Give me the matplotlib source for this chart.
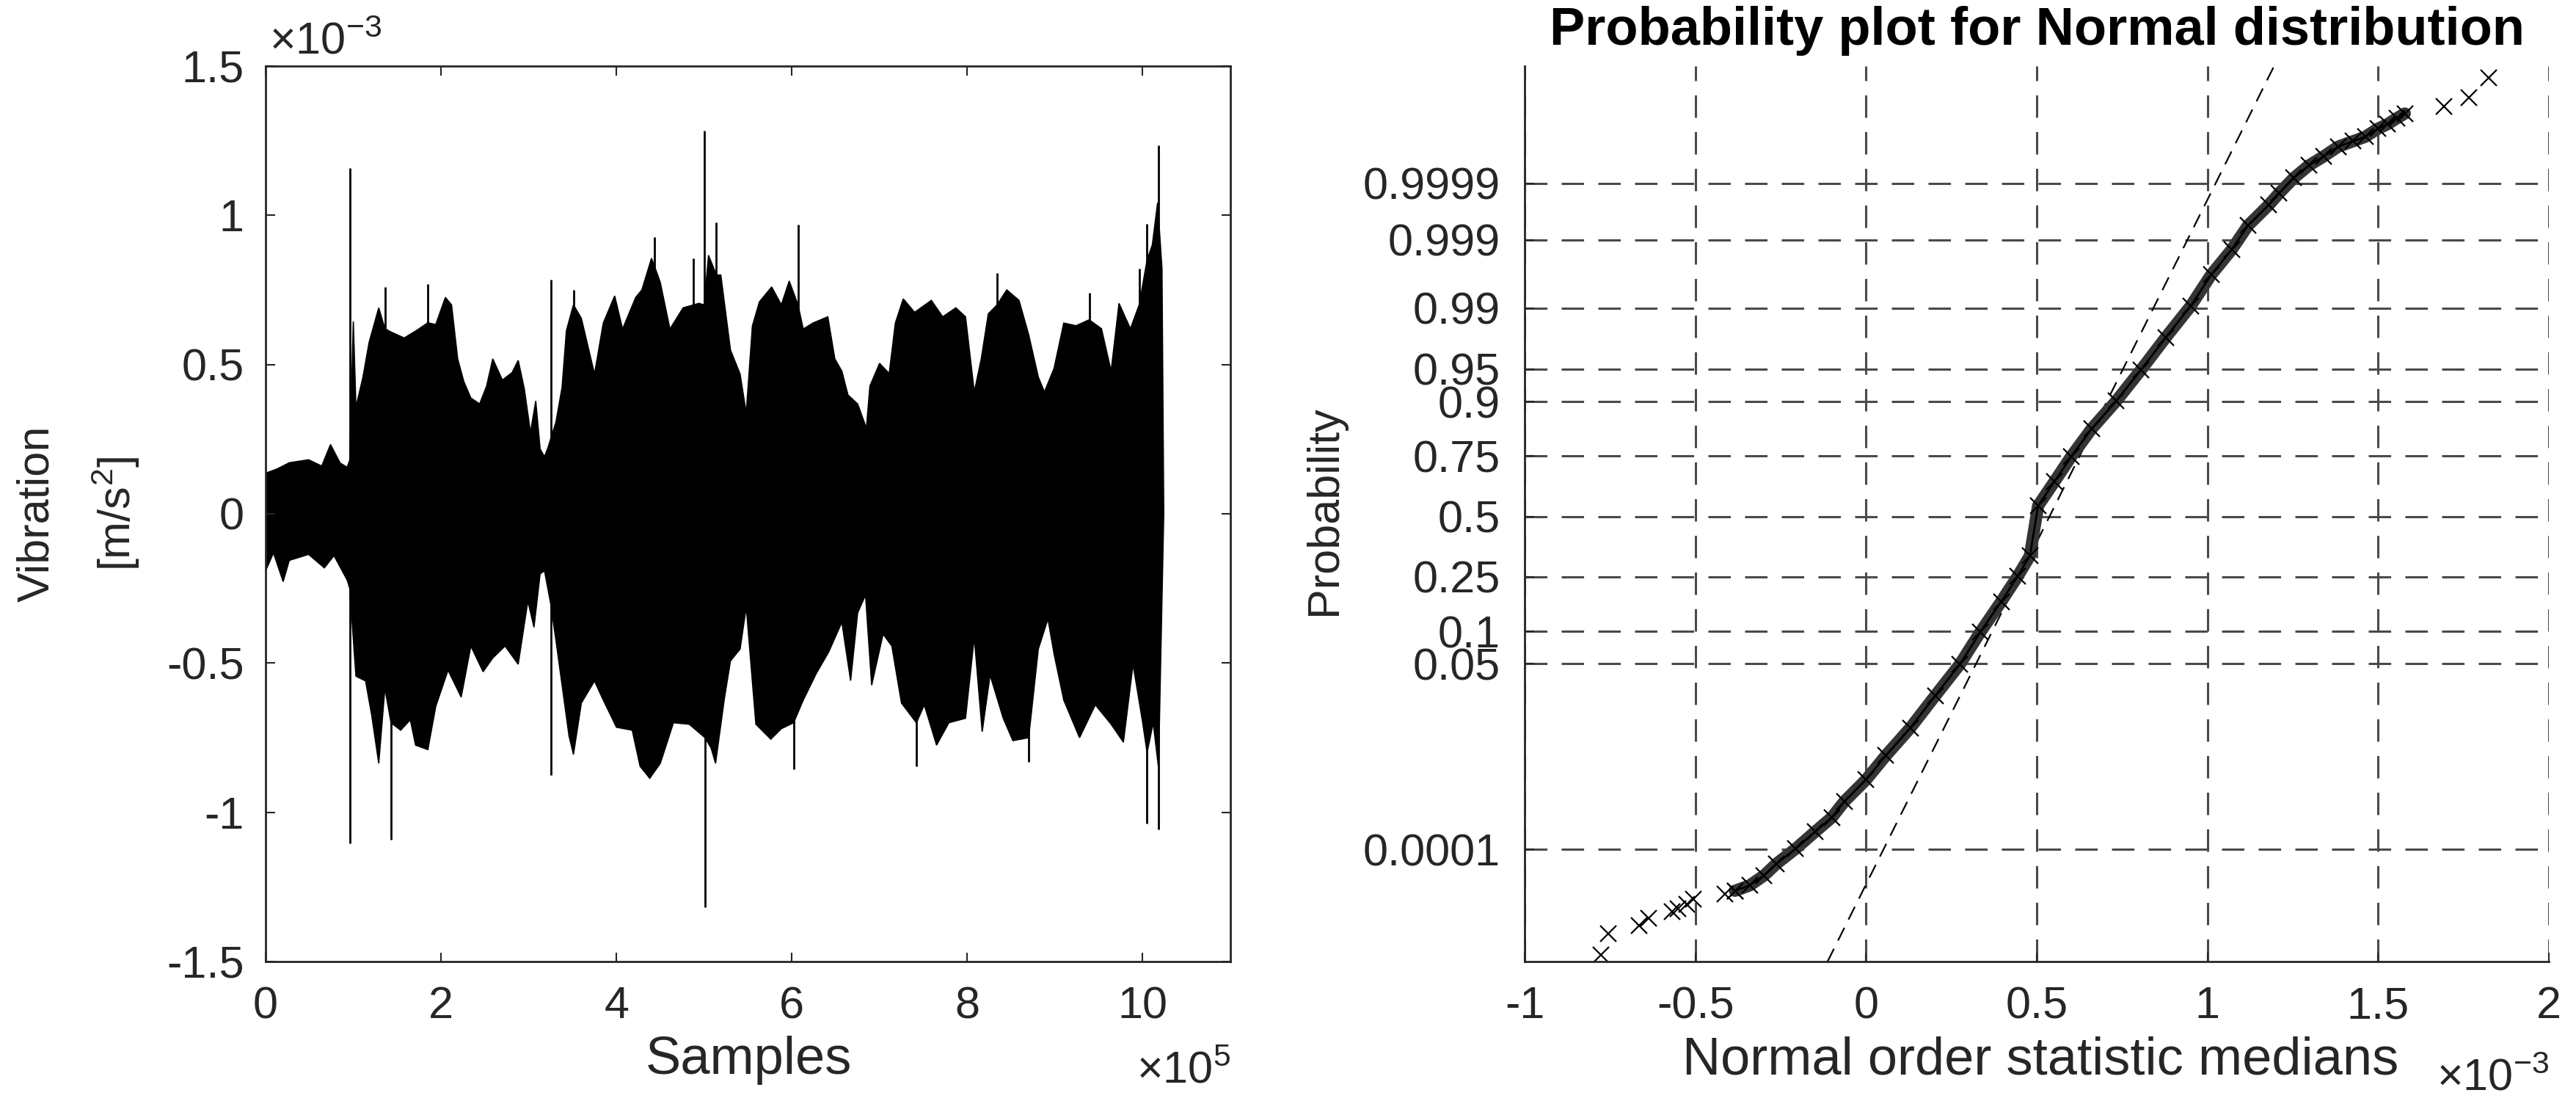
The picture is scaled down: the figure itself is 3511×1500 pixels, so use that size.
import matplotlib
matplotlib.use('Agg')
import numpy as np
import matplotlib.pyplot as plt
from statistics import NormalDist

plt.rcParams['font.family'] = ['Liberation Sans', 'DejaVu Sans']
plt.rcParams['mathtext.fontset'] = 'custom'
plt.rcParams['mathtext.rm'] = 'Liberation Sans'
plt.rcParams['axes.unicode_minus'] = False
plt.rcParams['lines.scale_dashes'] = False

INK = '#262626'

# left panel: vibration record, read off as upper / lower envelope
# x in 1e5 samples, y in 1e-3 m/s^2
env_up_x = [0.0, 0.13, 0.27, 0.49, 0.64, 0.74, 0.85, 0.93, 0.96, 1.00, 1.03, 1.11, 1.18, 1.29,
            1.36, 1.43, 1.58, 1.72, 1.85, 1.94, 2.05, 2.12, 2.19, 2.26, 2.34, 2.44, 2.52, 2.59,
            2.70, 2.81, 2.88, 2.95, 3.02, 3.08, 3.13, 3.18, 3.22, 3.31, 3.38, 3.43, 3.51, 3.60,
            3.75, 3.85, 3.98, 4.07, 4.22, 4.29, 4.40, 4.47, 4.50, 4.61, 4.76, 4.88, 4.94, 5.00,
            5.05, 5.14, 5.19, 5.30, 5.41, 5.48, 5.55, 5.63, 5.77, 5.88, 5.97, 6.07, 6.13, 6.24,
            6.41, 6.49, 6.57, 6.64, 6.75, 6.85, 6.89, 7.00, 7.11, 7.18, 7.27, 7.40, 7.59, 7.72,
            7.87, 7.98, 8.08, 8.16, 8.24, 8.34, 8.45, 8.59, 8.70, 8.81, 8.88, 8.99, 9.10, 9.24,
            9.39, 9.53, 9.64, 9.73, 9.86, 9.96, 10.05, 10.11, 10.17, 10.22, 10.24]
env_up_y = [0.136, 0.15, 0.171, 0.181, 0.16, 0.232, 0.17, 0.156, 0.18, 0.645, 0.357, 0.458, 0.574, 0.69,
            0.62, 0.609, 0.589, 0.614, 0.64, 0.634, 0.725, 0.70, 0.519, 0.443, 0.388, 0.368, 0.428, 0.519,
            0.448, 0.473, 0.514, 0.418, 0.272, 0.378, 0.217, 0.191, 0.222, 0.307, 0.423, 0.614, 0.70, 0.655,
            0.468, 0.639, 0.73, 0.619, 0.725, 0.75, 0.856, 0.80, 0.775, 0.619, 0.69, 0.70, 0.705, 0.70,
            0.866, 0.80, 0.80, 0.549, 0.468, 0.337, 0.629, 0.71, 0.76, 0.70, 0.78, 0.70, 0.619, 0.639,
            0.66, 0.519, 0.478, 0.398, 0.368, 0.287, 0.428, 0.504, 0.47, 0.639, 0.72, 0.675, 0.715, 0.66,
            0.69, 0.66, 0.408, 0.52, 0.67, 0.70, 0.75, 0.715, 0.60, 0.458, 0.408, 0.488, 0.639, 0.63,
            0.65, 0.62, 0.478, 0.705, 0.62, 0.70, 0.85, 0.901, 1.042, 0.821, 0.0]
env_lo_x = [0.0, 0.09, 0.20, 0.27, 0.49, 0.67, 0.78, 0.93, 0.96, 1.03, 1.14, 1.21, 1.29, 1.36,
            1.43, 1.54, 1.65, 1.71, 1.85, 1.94, 2.08, 2.23, 2.34, 2.48, 2.59, 2.73, 2.88, 2.99,
            3.06, 3.13, 3.18, 3.25, 3.31, 3.46, 3.51, 3.60, 3.75, 3.85, 4.00, 4.18, 4.27, 4.38,
            4.50, 4.65, 4.83, 5.01, 5.08, 5.13, 5.23, 5.30, 5.41, 5.48, 5.59, 5.76, 5.88, 6.02,
            6.13, 6.28, 6.42, 6.57, 6.67, 6.75, 6.84, 6.91, 7.04, 7.14, 7.25, 7.42, 7.51, 7.65,
            7.79, 7.98, 8.08, 8.17, 8.26, 8.41, 8.52, 8.70, 8.81, 8.92, 8.99, 9.10, 9.28, 9.46,
            9.64, 9.78, 9.89, 10.00, 10.05, 10.12, 10.18, 10.24]
env_lo_y = [-0.191, -0.131, -0.227, -0.156, -0.136, -0.181, -0.14, -0.222, -0.25, -0.544, -0.56, -0.675, -0.836, -0.584,
            -0.70, -0.725, -0.69, -0.775, -0.79, -0.645, -0.524, -0.614, -0.443, -0.529, -0.483, -0.443, -0.504, -0.292,
            -0.38, -0.201, -0.191, -0.30, -0.423, -0.745, -0.806, -0.634, -0.56, -0.624, -0.715, -0.725, -0.846, -0.886,
            -0.836, -0.70, -0.705, -0.75, -0.785, -0.836, -0.62, -0.493, -0.453, -0.312, -0.705, -0.755, -0.72, -0.70,
            -0.624, -0.534, -0.463, -0.363, -0.559, -0.332, -0.272, -0.574, -0.403, -0.443, -0.634, -0.70, -0.64, -0.775,
            -0.70, -0.685, -0.413, -0.73, -0.54, -0.685, -0.76, -0.75, -0.453, -0.352, -0.47, -0.624, -0.75, -0.64,
            -0.705, -0.765, -0.504, -0.70, -0.80, -0.70, -0.85, 0.0]
# isolated spikes sticking out of the envelope
spike_x = [0.96, 1.36, 1.43, 1.85, 3.25, 3.51, 4.43, 4.88, 5.00, 5.01, 5.14, 6.02, 6.07,
           7.42, 8.34, 8.70, 9.39, 9.96, 10.05, 10.18]
spike_lo = [-1.103, 0.0, -1.093, 0.0, -0.876, 0.0, 0.0, 0.0, 0.0, -1.319, 0.0, -0.856, 0.0,
            -0.846, 0.0, -0.831, 0.0, 0.0, -1.037, -1.057]
spike_hi = [1.158, 0.76, 0.0, 0.77, 0.785, 0.75, 0.926, 0.856, 1.284, 0.0, 0.977, 0.0, 0.97,
            0.0, 0.806, 0.0, 0.74, 0.821, 0.972, 1.234]

# right panel: normal probability plot (x in 1e-3, y as normal quantile)
tail_lo_x = [-0.777, -0.755, -0.665, -0.636, -0.569, -0.551, -0.526, -0.505, -0.413, -0.384]
tail_lo_z = [-4.90, -4.66, -4.57, -4.49, -4.41, -4.38, -4.33, -4.27, -4.22, -4.18]
body_x = [-0.384, -0.341, -0.299, -0.263, -0.206, -0.149, -0.100, -0.063, 0.0, 0.058, 0.130, 0.203,
          0.275, 0.335, 0.396, 0.444, 0.480, 0.504, 0.552, 0.601, 0.661, 0.733, 0.806, 0.878,
          0.951, 1.011, 1.071, 1.119, 1.180, 1.210, 1.253, 1.297, 1.340, 1.383, 1.426, 1.462,
          1.499, 1.527, 1.556, 1.578]
body_z = [-4.18, -4.12, -4.01, -3.88, -3.71, -3.52, -3.36, -3.18, -2.94, -2.67, -2.36, -2.00,
          -1.65, -1.29, -0.95, -0.67, -0.44, 0.12, 0.39, 0.67, 0.98, 1.29, 1.64, 2.00,
          2.35, 2.70, 2.98, 3.25, 3.48, 3.61, 3.78, 3.92, 4.02, 4.13, 4.19, 4.24,
          4.33, 4.38, 4.45, 4.50]
tail_hi_x = [1.693, 1.766, 1.823]
tail_hi_z = [4.58, 4.68, 4.90]
ref_x = [-0.114, 1.19]
ref_z = [-4.98, 4.99]

prob_ticks = [0.0001, 0.05, 0.1, 0.25, 0.5, 0.75, 0.9, 0.95, 0.99, 0.999, 0.9999]
prob_labels = ['0.0001', '0.05', '0.1', '0.25', '0.5', '0.75', '0.9', '0.95', '0.99', '0.999', '0.9999']

W, H = 3511, 1500
fig = plt.figure(figsize=(W / 100, H / 100), dpi=100)

# left: time signal
ax1 = fig.add_axes([362 / W, 1 - 1310 / H, 1315 / W, 1220 / H])
ax1.fill(np.r_[env_up_x, env_lo_x[::-1]], np.r_[env_up_y, env_lo_y[::-1]],
         facecolor='k', edgecolor='k', lw=1.2)
ax1.vlines(spike_x, spike_lo, spike_hi, color='k', lw=2)
ax1.set_xlim(0, 11)
ax1.set_ylim(-1.5, 1.5)
ax1.set_xticks([0, 2, 4, 6, 8, 10])
ax1.set_yticks([-1.5, -1, -0.5, 0, 0.5, 1, 1.5])
ax1.set_yticklabels(['-1.5', '-1', '-0.5', '0', '0.5', '1', '1.5'])
ax1.tick_params(direction='in', top=True, right=True, length=9, width=1.5,
                labelsize=44, colors=INK)
ax1.tick_params(axis='x', pad=24)
ax1.tick_params(axis='y', pad=21)
for s in ax1.spines.values():
    s.set_linewidth(2)
    s.set_color(INK)

# right: probability plot
ax2 = fig.add_axes([2078 / W, 1 - 1310 / H, 1396 / W, 1220 / H])
nd = NormalDist()
ax2.set_xlim(-1, 2)
ax2.set_ylim(-4.97, 5.03)
ax2.set_xticks([-1, -0.5, 0, 0.5, 1, 1.5, 2])
ax2.set_xticklabels(['-1', '-0.5', '0', '0.5', '1', '1.5', '2'])
ax2.set_yticks([nd.inv_cdf(p) for p in prob_ticks])
ax2.set_yticklabels(prob_labels)
ax2.grid(True, ls=(0, (22, 14)), color='#4a4a4a', lw=2.2)
ax2.set_axisbelow(True)
ax2.axline((ref_x[0], ref_z[0]), (ref_x[1], ref_z[1]), color='k', lw=1.6, ls=(0, (14, 9)))
ax2.plot(body_x, body_z, color='#353535', lw=12, solid_capstyle='round')
ax2.plot(body_x, body_z, color='k', lw=2)
ax2.plot(tail_lo_x + body_x + tail_hi_x, tail_lo_z + body_z + tail_hi_z, ls='none',
         marker='x', ms=16, mew=1.6, color='k')
ax2.spines['top'].set_visible(False)
ax2.spines['right'].set_visible(False)
for s in ('left', 'bottom'):
    ax2.spines[s].set_linewidth(2)
    ax2.spines[s].set_color(INK)
ax2.tick_params(direction='in', length=9, width=1.5, labelsize=44, colors=INK)
ax2.tick_params(axis='x', pad=24)
ax2.tick_params(axis='y', pad=24)
ax2.set_title('Probability plot for Normal distribution', fontsize=52,
              fontweight='bold', pad=21)

# axis labels and MATLAB-style exponents
yc = 1 - 700 / H
fig.text(51 / W, yc, 'Vibration', rotation=90, ha='center', va='center', fontsize=44, color=INK)
fig.text(158 / W, yc, '[m/s$^{\\mathregular{2}}$]', rotation=90, ha='center', va='center',
         fontsize=44, color=INK)
fig.text(1806 / W, 1 - 695 / H, 'Probability', rotation=90, ha='center', va='center',
         fontsize=44, color=INK)
fig.text(1020 / W, 1 - 1463 / H, 'Samples', ha='center', va='baseline', fontsize=52, color=INK)
fig.text(2781 / W, 1 - 1463 / H, 'Normal order statistic medians', ha='center', va='baseline',
         fontsize=52, color=INK)
fig.text(1677 / W, 1 - 1476 / H, '×10$^{\\mathregular{5}}$', ha='right', va='baseline',
         fontsize=44, color=INK)
fig.text(3474 / W, 1 - 1485 / H, '×10$^{\\mathregular{-3}}$', ha='right', va='baseline',
         fontsize=44, color=INK)
fig.text(367 / W, 1 - 74 / H, '×10$^{\\mathregular{-3}}$', ha='left', va='baseline',
         fontsize=44, color=INK)

fig.savefig('out.png', dpi=100)
